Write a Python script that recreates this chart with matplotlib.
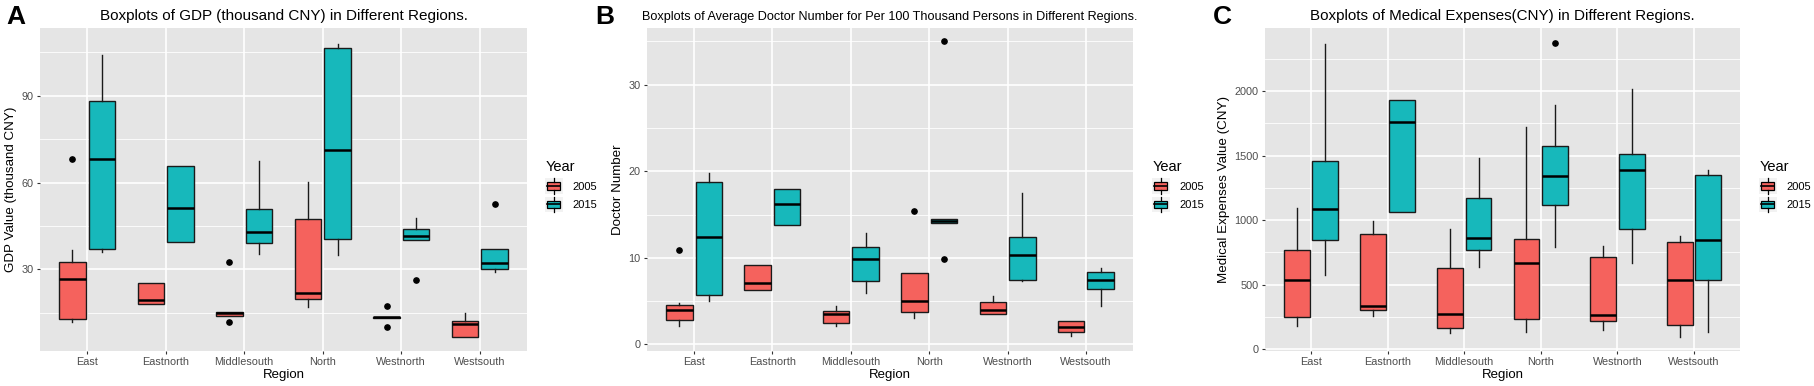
import matplotlib
matplotlib.use("Agg")
import matplotlib.pyplot as plt
from matplotlib.legend_handler import HandlerBase
from matplotlib.patches import Rectangle, Patch
from matplotlib.lines import Line2D

plt.rcParams['font.family'] = ['Liberation Sans', 'DejaVu Sans']

REGIONS = ["East", "Eastnorth", "Middlesouth", "North", "Westnorth", "Westsouth"]
YEARS = ["2005", "2015"]

# box stats per region: [whisker low, q1, median, q3, whisker high]
GDP_2005 = [[11.9, 12.7, 26.8, 32.6, 36.7], [17.9, 17.9, 19.3, 25.3, 25.3],
            [14.0, 14.0, 14.8, 15.4, 15.4], [16.9, 19.8, 21.7, 47.5, 60.3],
            [13.3, 13.3, 13.5, 13.7, 13.7], [6.7, 6.7, 11.3, 12.2, 14.8]]
GDP_2015 = [[36.1, 36.9, 68.1, 88.2, 104.0], [39.6, 39.6, 51.3, 65.6, 65.6],
            [35.3, 39.2, 43.0, 50.8, 67.5], [35.0, 40.4, 71.2, 106.6, 108.0],
            [40.1, 40.1, 41.5, 43.9, 47.6], [29.2, 30.0, 32.2, 37.0, 37.0]]
GDP_2005_OUT = [[68.3], [], [32.4, 11.7], [], [17.4, 10.0], []]
GDP_2015_OUT = [[], [], [], [], [26.3], [52.5]]

DOC_2005 = [[2.1, 2.81, 4.0, 4.58, 4.8], [6.3, 6.3, 7.05, 9.2, 9.2],
            [2.16, 2.43, 3.47, 3.8, 4.43], [3.08, 3.7, 4.97, 8.28, 8.28],
            [3.54, 3.54, 3.97, 4.85, 5.62], [0.96, 1.46, 2.0, 2.73, 2.73]]
DOC_2015 = [[5.0, 5.74, 12.36, 18.8, 19.75], [13.8, 13.8, 16.2, 18.0, 18.0],
            [5.9, 7.32, 9.82, 11.24, 12.9], [14.0, 14.0, 14.25, 14.48, 14.48],
            [7.3, 7.43, 10.36, 12.4, 17.5], [4.47, 6.43, 7.43, 8.32, 8.86]]
DOC_2005_OUT = [[10.9], [], [], [15.44], [], []]
DOC_2015_OUT = [[], [], [], [35.04, 9.9], [], []]

MED_2005 = [[178, 248, 533, 768, 1097], [261, 308, 339, 895, 993],
            [127, 163, 272, 626, 931], [137, 233, 667, 851, 1718],
            [150, 222, 266, 711, 799], [93, 191, 536, 833, 877]]
MED_2015 = [[572, 843, 1089, 1462, 2362], [1066, 1066, 1762, 1927, 1927],
            [636, 771, 864, 1174, 1482], [792, 1120, 1340, 1578, 1889],
            [670, 929, 1392, 1516, 2015], [137, 538, 843, 1353, 1392]]
MED_2005_OUT = [[], [], [], [], [], []]
MED_2015_OUT = [[], [], [], [2370], [], []]

COLORS = {"2005": "#F5625D", "2015": "#17B8BB"}
W = 1814
H = 386


class BoxKey(HandlerBase):
    # ggplot-like legend key: grey square with a mini boxplot
    def create_artists(self, legend, orig, xd, yd, width, height, fontsize, trans):
        x0, y0 = -xd, -yd
        lo, hi = y0 + height * 0.22, y0 + height * 0.78
        bg = Rectangle((x0 - 1, y0 - 1), width + 2, height + 2, fc="#F2F2F2",
                       ec="none", transform=trans)
        box = Rectangle((x0 + 1, lo), width - 2, hi - lo,
                        fc=orig.get_facecolor(), ec="black", lw=0.9, transform=trans)
        med = Line2D([x0 + 1, x0 + width - 1], [y0 + height / 2] * 2,
                     color="black", lw=1.2, transform=trans)
        w1 = Line2D([x0 + width / 2] * 2, [y0 - 1, lo],
                    color="black", lw=0.9, transform=trans)
        w2 = Line2D([x0 + width / 2] * 2, [hi, y0 + height + 1],
                    color="black", lw=0.9, transform=trans)
        return [bg, box, med, w1, w2]


def stats(rows, outs):
    return [dict(whislo=r[0], q1=r[1], med=r[2], q3=r[3], whishi=r[4], fliers=o)
            for r, o in zip(rows, outs)]


def panel(ax, s05, o05, s15, o15, ylim, major, minor, title, tsize, ylabel):
    ax.set_facecolor("#E5E5E5")
    for sp in ax.spines.values():
        sp.set_visible(False)
    for v in minor:
        ax.axhline(v, color="white", lw=0.6, zorder=0)
    for v in major:
        ax.axhline(v, color="white", lw=1.2, zorder=0)
    for i in range(len(REGIONS)):
        ax.axvline(i, color="white", lw=1.2, zorder=0)
    base = list(range(len(REGIONS)))
    for yr, st, off in ((YEARS[0], stats(s05, o05), -0.1875),
                        (YEARS[1], stats(s15, o15), 0.1875)):
        ax.bxp(st, positions=[b + off for b in base], widths=0.3375,
               patch_artist=True, showcaps=False, manage_ticks=False,
               boxprops=dict(facecolor=COLORS[yr], edgecolor="#1a1a1a", lw=1.0),
               medianprops=dict(color="black", lw=1.8),
               whiskerprops=dict(color="#1a1a1a", lw=1.0),
               flierprops=dict(marker="o", markerfacecolor="black",
                               markeredgecolor="black", markersize=3.8))
    ax.set_xlim(-0.6, len(REGIONS) - 0.4)
    ax.set_ylim(*ylim)
    ax.set_xticks(base)
    ax.set_xticklabels(REGIONS)
    ax.set_yticks(major)
    ax.tick_params(colors="#333333", labelcolor="#4D4D4D", labelsize=7.8,
                   length=2.5, width=0.8, pad=2)
    ax.set_title(title, fontsize=tsize, pad=6)
    ax.set_xlabel("Region", fontsize=9.5, labelpad=1)
    ax.set_ylabel(ylabel, fontsize=9.6, labelpad=3)
    handles = [Patch(facecolor=COLORS[y]) for y in YEARS]
    return handles


fig = plt.figure(figsize=(W / 100, H / 100), dpi=100)
top, bot = 28, 351
rects = [(40, 527), (647, 1133), (1265, 1740)]
axs = [fig.add_axes([l / W, 1 - bot / H, (r - l) / W, (bot - top) / H]) for l, r in rects]

h = panel(axs[0], GDP_2005, GDP_2005_OUT, GDP_2015, GDP_2015_OUT, (1.8, 113.4),
          [30, 60, 90], [15, 45, 75, 105],
          "Boxplots of GDP (thousand CNY) in Different Regions.", 11,
          "GDP Value (thousand CNY)")
panel(axs[1], DOC_2005, DOC_2005_OUT, DOC_2015, DOC_2015_OUT, (-0.77, 36.55),
      [0, 10, 20, 30], [5, 15, 25, 35],
      "Boxplots of Average Doctor Number for Per 100 Thousand Persons in Different Regions.",
      9.1, "Doctor Number")
panel(axs[2], MED_2005, MED_2005_OUT, MED_2015, MED_2015_OUT, (-13, 2488),
      [0, 500, 1000, 1500, 2000], [250, 750, 1250, 1750, 2250],
      "Boxplots of Medical Expenses(CNY) in Different Regions.", 10.9,
      "Medical Expenses Value (CNY)")

for ax, lx in zip(axs, (546, 1153, 1760)):
    ax.legend(h, YEARS, handler_map={Patch: BoxKey()}, loc="upper left",
              bbox_to_anchor=(lx / W, 1 - 160 / H), bbox_transform=fig.transFigure,
              frameon=False, title="Year", title_fontsize=10.5, fontsize=8,
              alignment="left", borderpad=0, borderaxespad=0,
              handlelength=1.4, handleheight=1.4, labelspacing=0.5,
              handletextpad=1.0)

for lab, lx in (("A", 6), ("B", 595), ("C", 1213)):
    fig.text(lx / W, 1 - 5 / H, lab, fontsize=19, fontweight="bold", va="top")

fig.savefig("out.png", dpi=100)
